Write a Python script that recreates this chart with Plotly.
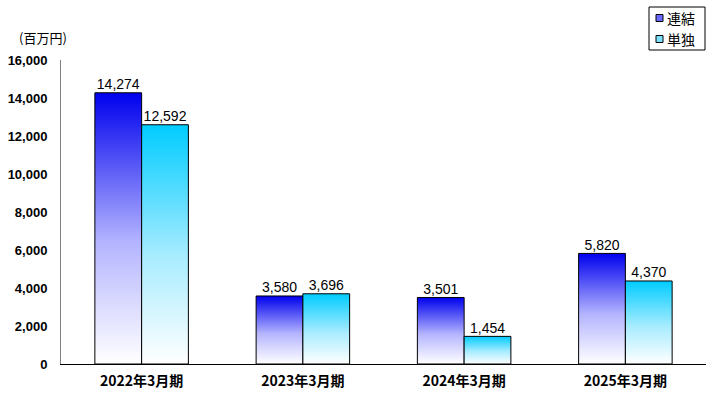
import plotly.graph_objects as go

categories = ["2022年3月期", "2023年3月期", "2024年3月期", "2025年3月期"]
series_names = ["連結", "単独"]
consolidated = [14274, 3580, 3501, 5820]
standalone = [12592, 3696, 1454, 4370]
y_ticks = [0, 2000, 4000, 6000, 8000, 10000, 12000, 14000, 16000]

series_values = [consolidated, standalone]
scales = [
    [[0, "#ffffff"], [0.45, "#b4b4ff"], [1, "#0000ee"]],
    [[0, "#ffffff"], [0.45, "#a8ecff"], [1, "#00ccff"]],
]
legend_colors = ["#6a6aff", "#7ee0ff"]

bar_w = 0.29
offsets = [-bar_w / 2, bar_w / 2]
jp = "Noto Sans CJK JP, Liberation Sans, sans-serif"
num = "Liberation Sans, Arial, sans-serif"

W, H = 716, 396
ML, MR, MT, MB = 61, 10, 60, 32
PW, PH = W - ML - MR, H - MT - MB


def px_x(px):
    return (px - ML) / PW


def px_y(py):
    return (H - py - MB) / PH


fig = go.Figure()
for s, (name, vals) in enumerate(zip(series_names, series_values)):
    for i, v in enumerate(vals):
        cx = i + offsets[s]
        x0, x1 = cx - bar_w / 2, cx + bar_w / 2
        fig.add_trace(go.Scatter(
            x=[x0, x1, x1, x0, x0], y=[0, 0, v, v, 0],
            mode="lines", fill="toself",
            fillgradient=dict(type="vertical", colorscale=scales[s], start=0, stop=v),
            line=dict(color="black", width=1),
            showlegend=False, hoverinfo="skip",
        ))
    fig.add_trace(go.Scatter(
        x=[i + offsets[s] for i in range(len(vals))], y=vals,
        mode="text", text=[f"{v:,}" for v in vals],
        textposition="top center",
        textfont=dict(family=num, size=14, color="black"),
        showlegend=False, hoverinfo="skip",
    ))

# manual legend (box, squares, labels)
shapes = [dict(type="rect", xref="paper", yref="paper",
               x0=px_x(649), x1=px_x(705), y0=px_y(50), y1=px_y(7),
               line=dict(color="black", width=1), fillcolor="white", layer="above")]
annotations = []
for s, name in enumerate(series_names):
    cy = 18 + s * 21
    shapes.append(dict(type="rect", xref="paper", yref="paper",
                       x0=px_x(656), x1=px_x(663), y0=px_y(cy + 3.5), y1=px_y(cy - 3.5),
                       line=dict(color="black", width=1), fillcolor=legend_colors[s],
                       layer="above"))
    annotations.append(dict(text=name, xref="paper", yref="paper",
                            x=px_x(665), y=px_y(cy), xanchor="left", yanchor="middle",
                            showarrow=False, font=dict(family=jp, size=14, color="black")))

annotations.append(dict(
    text="(百万円)", xref="paper", yref="paper",
    x=px_x(43), y=px_y(38),
    xanchor="center", yanchor="middle", showarrow=False,
    font=dict(family=jp, size=13, color="black"),
))

fig.update_layout(
    width=W, height=H,
    margin=dict(l=ML, r=MR, t=MT, b=MB, autoexpand=False),
    paper_bgcolor="white", plot_bgcolor="white",
    showlegend=False,
    xaxis=dict(
        range=[-0.5, 3.5], tickvals=list(range(len(categories))), ticktext=categories,
        showline=True, linecolor="black", linewidth=1, showgrid=False, zeroline=False,
        ticks="", ticklabelstandoff=4,
        tickfont=dict(family=jp, size=14, color="black", weight="bold"),
    ),
    yaxis=dict(
        range=[0, 16000], tickvals=y_ticks, tickformat=",",
        showline=True, linecolor="#808080", linewidth=1, showgrid=False, zeroline=False,
        ticks="", ticklen=0, ticklabelstandoff=10,
        tickfont=dict(family=num, size=13, color="black", weight="bold"),
    ),
    shapes=shapes,
    annotations=annotations,
)

fig.write_html("out.html")
